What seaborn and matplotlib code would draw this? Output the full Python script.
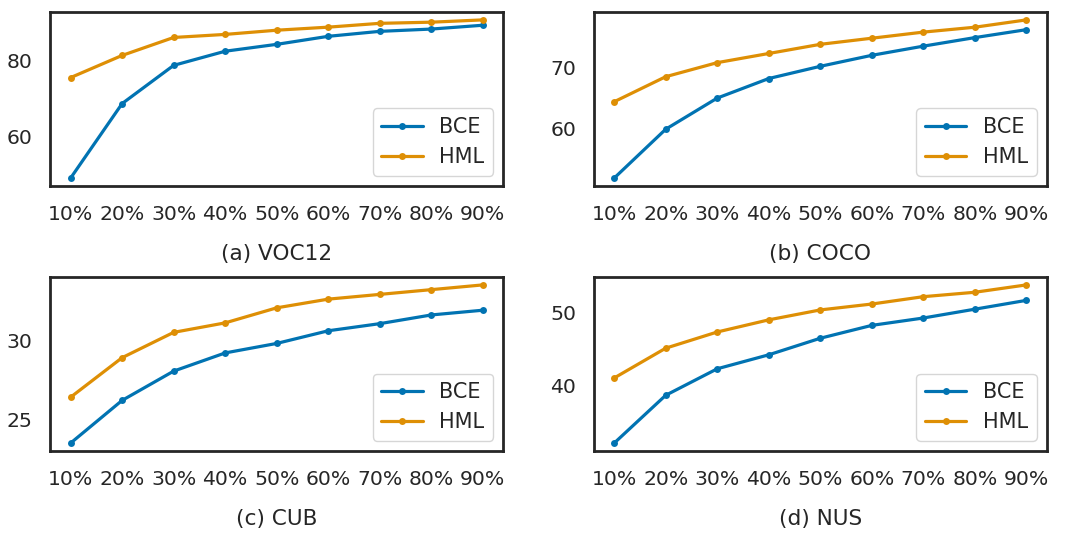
import numpy as np
import pandas as pd
import seaborn as sns
import matplotlib.pyplot as plt

# ratio of labels kept
ratios = ["10%", "20%", "30%", "40%", "50%", "60%", "70%", "80%", "90%"]

# values
voc_bce = [49.2, 68.7, 78.7, 82.4, 84.2, 86.3, 87.6, 88.2, 89.2]
voc_hml = [75.5, 81.3, 86.0, 86.8, 87.9, 88.7, 89.7, 90.0, 90.6]
coco_bce = [51.9, 59.9, 65.0, 68.2, 70.2, 72.0, 73.5, 74.9, 76.2]
coco_hml = [64.4, 68.5, 70.8, 72.3, 73.8, 74.8, 75.8, 76.6, 77.8]
cub_bce = [23.5, 26.2, 28.05, 29.2, 29.8, 30.6, 31.05, 31.6, 31.9]
cub_hml = [26.4, 28.9, 30.5, 31.1, 32.05, 32.6, 32.9, 33.2, 33.5]
nus_bce = [32.2, 38.7, 42.3, 44.2, 46.45, 48.2, 49.2, 50.4, 51.6]
nus_hml = [41.05, 45.1, 47.3, 48.95, 50.3, 51.1, 52.1, 52.7, 53.7]

titles = ["(a) VOC12", "(b) COCO", "(c) CUB", "(d) NUS"]
bce_all = [voc_bce, coco_bce, cub_bce, nus_bce]
hml_all = [voc_hml, coco_hml, cub_hml, nus_hml]

sns.set_style("white", {"axes.edgecolor": ".15"})
pal = sns.color_palette("colorblind")
plt.rcParams["axes.linewidth"] = 2.0

fig, axes = plt.subplots(2, 2, figsize=(10.8, 5.35), dpi=100)
fig.subplots_adjust(left=0.0463, right=0.9694, top=0.9776, bottom=0.157,
                    wspace=0.199, hspace=0.523)

x = np.arange(len(ratios))
for ax, title, bce, hml in zip(axes.flat, titles, bce_all, hml_all):
    sns.lineplot(x=x, y=bce, ax=ax, color=pal[0], marker="o", markersize=5,
                 markeredgewidth=0, linewidth=2.3, label="BCE")
    sns.lineplot(x=x, y=hml, ax=ax, color=pal[1], marker="o", markersize=5,
                 markeredgewidth=0, linewidth=2.3, label="HML")
    ax.set_xticks(x)
    ax.set_xticklabels(ratios)
    ax.tick_params(axis="x", labelsize=14.7, pad=10.5)
    ax.tick_params(axis="y", labelsize=14.7, pad=9)
    ax.set_xlabel(title, fontsize=15.6, labelpad=14, color=".15")
    ax.legend(loc="lower right", fontsize=15, frameon=True)

axes[0, 0].set_yticks([60, 80])
axes[0, 1].set_yticks([60, 70])
axes[1, 0].set_yticks([25, 30])
axes[1, 1].set_yticks([40, 50])

plt.savefig("out.png", dpi=100)
